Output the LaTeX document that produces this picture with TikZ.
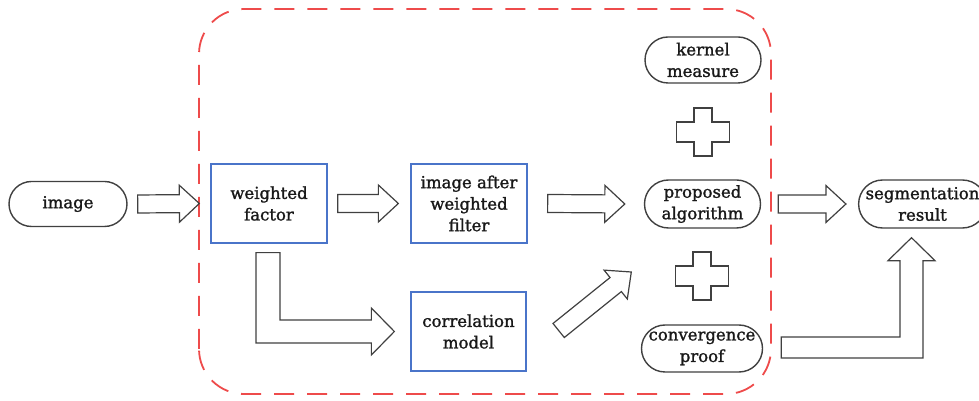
\documentclass[tikz,border=0pt]{standalone}
\usepackage{fontspec}
\setmainfont{DejaVu Serif}
\newfontfamily\diafont{DejaVu Serif}[FakeBold=1.4]
\usetikzlibrary{shapes.misc,calc}
\definecolor{boxblue}{HTML}{4A74C9}
\definecolor{framered}{HTML}{EE4B4B}
\definecolor{linegray}{HTML}{404040}
\tikzset{
  txt/.style={font=\diafont\fontsize{16.5}{21.5}\selectfont, text=black!90, align=center, inner sep=0pt},
  pill/.style={txt, rounded rectangle, draw=linegray, line width=1.4pt, fill=white},
  bluebox/.style={txt, rectangle, draw=boxblue, line width=1.3pt, fill=white, minimum width=116pt, minimum height=79pt},
  blk/.style={draw=linegray, line width=1.2pt, fill=white, line join=miter},
  frame/.style={draw=framered, line width=1.8pt, dash pattern=on 20pt off 13pt, rounded corners=45pt}
}
% straight block arrow from #1 (tail centre) to #2 (tip)
\newcommand\barrow[2]{%
  \draw[blk] let \p1=(#1), \p2=(#2), \n1={veclen(\x2-\x1,\y2-\y1)}, \n2={(\x2-\x1)/\n1}, \n3={(\y2-\y1)/\n1}, \n4={\n1-20} in
    ({\x1+9*\n3},{\y1-9*\n2})
    -- ({\x1+\n4*\n2+9*\n3},{\y1+\n4*\n3-9*\n2})
    -- ({\x1+\n4*\n2+18.5*\n3},{\y1+\n4*\n3-18.5*\n2})
    -- (\p2)
    -- ({\x1+\n4*\n2-18.5*\n3},{\y1+\n4*\n3+18.5*\n2})
    -- ({\x1+\n4*\n2-9*\n3},{\y1+\n4*\n3+9*\n2})
    -- ({\x1-9*\n3},{\y1+9*\n2}) -- cycle;}
\newcommand\plussign[1]{%
  \draw[blk, shift={(#1)}] (-9,24) -- (9,24) -- (9,10) -- (26.5,10) -- (26.5,-10) -- (9,-10) -- (9,-24) -- (-9,-24) -- (-9,-10) -- (-26.5,-10) -- (-26.5,10) -- (-9,10) -- cycle;}
\begin{document}
\begin{tikzpicture}[x=1pt,y=1pt]
\useasboundingbox (0,0) rectangle (979,401);
% dashed frame
\draw[frame] (199,7) rectangle (771,392);
% nodes
\node[pill, minimum width=118pt, minimum height=45pt] (img) at (68,197) {image};
\node[bluebox] (wf) at (269,197.5) {weighted\\factor};
\node[bluebox] (iawf) at (469,197.5) {image after\\weighted\\filter};
\node[bluebox, minimum width=115pt] (cm) at (468.5,69.5) {correlation\\model};
\node[pill, minimum width=116pt, minimum height=46pt] (km) at (703,341) {kernel\\measure};
\node[pill, minimum width=116pt, minimum height=48pt] (pa) at (702.5,197) {proposed\\algorithm};
\node[pill, minimum width=116pt, minimum height=47pt] (cp) at (702,52.5) {convergence\\proof};
\node[pill, minimum width=111pt, minimum height=48pt] (sr) at (922.5,197) {segmentation\\result};
% plus signs
\coordinate (plusA) at (703,269);
\coordinate (plusB) at (702,125);
\plussign{plusA}
\plussign{plusB}
% straight block arrows
\barrow{[xshift=10pt]img.east}{[xshift=-11pt]wf.west}
\barrow{[xshift=10pt]wf.east}{[xshift=-12pt]iawf.west}
\barrow{[xshift=20pt]iawf.east}{[xshift=-19pt]pa.west}
\barrow{[xshift=17pt]pa.east}{[xshift=-12pt]sr.west}
\coordinate (diagtip) at ([shift={(-12.5pt,-68pt)}]pa.west);
\barrow{[xshift=32pt,yshift=1pt]cm.east}{diagtip}
% L-shaped arrow: weighted factor -> correlation model
\draw[blk] let \p1=([xshift=-1pt,yshift=-9pt]wf.south), \p2=([xshift=-16pt]cm.west) in
  (\x1-12pt,\y1) -- (\x1+12pt,\y1) -- (\x1+12pt,\y2+11.5pt) -- (\x2-23pt,\y2+11.5pt) -- (\x2-23pt,\y2+23.5pt) -- (\p2)
  -- (\x2-23pt,\y2-23.5pt) -- (\x2-23pt,\y2-11.5pt) -- (\x1-12pt,\y2-11.5pt) -- cycle;
% L-shaped arrow: convergence proof -> segmentation result
\draw[blk] let \p1=([xshift=18pt,yshift=1pt]cp.east), \p2=([xshift=-11pt,yshift=-9pt]sr.south) in
  (\x1,\y1+10.5pt) -- (\x2-11.5pt,\y1+10.5pt) -- (\x2-11.5pt,\y2-23pt) -- (\x2-23.5pt,\y2-23pt) -- (\p2)
  -- (\x2+23.5pt,\y2-23pt) -- (\x2+11.5pt,\y2-23pt) -- (\x2+11.5pt,\y1-10.5pt) -- (\x1,\y1-10.5pt) -- cycle;
\end{tikzpicture}
\end{document}
